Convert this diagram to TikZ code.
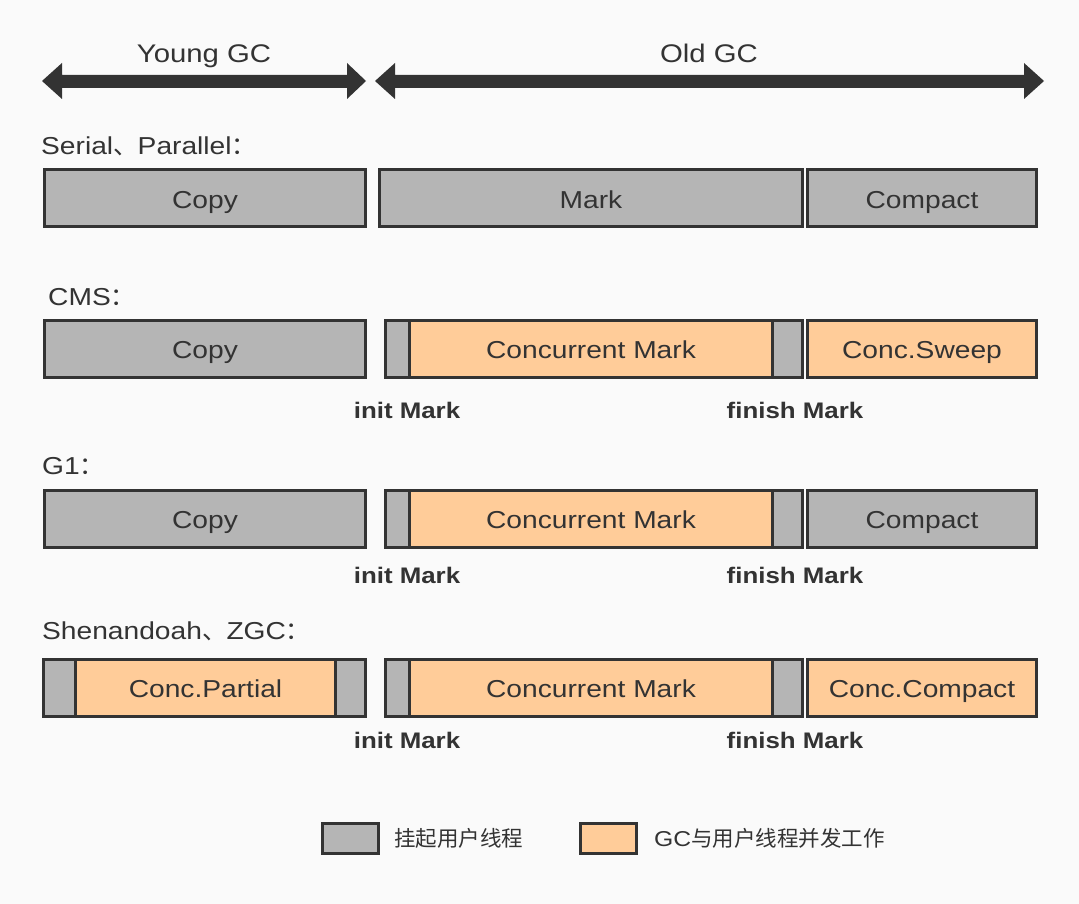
\documentclass[tikz,border=0pt]{standalone}
\usepackage{fontspec}
\setmainfont{Liberation Sans}[FakeStretch=1.15]
\newfontfamily\cjk{Noto Sans CJK SC}
\definecolor{bg}{HTML}{FAFAFA}
\definecolor{ink}{HTML}{333333}
\definecolor{gfill}{HTML}{B5B5B5}
\definecolor{ofill}{HTML}{FFCC99}
\begin{document}
\begin{tikzpicture}[x=1pt,y=-1pt,
  bar/.style={draw=ink, line width=3pt, minimum height=57pt, inner sep=0pt, anchor=west, text=ink,
    text height=19.5pt, text depth=0pt, font=\fontsize{24.5}{28}\selectfont},
  gbar/.style={bar, fill=gfill},
  obar/.style={bar, fill=ofill},
  rowlabel/.style={anchor=base west, text=ink, font=\fontsize{24.5}{28}\selectfont, inner sep=0pt},
  sublabel/.style={anchor=base, text=ink, font=\bfseries\fontsize{22.5}{26}\selectfont, inner sep=0pt},
  head/.style={anchor=base, text=ink, font=\fontsize{25.5}{30}\selectfont, inner sep=0pt},
  legtext/.style={anchor=west, text=ink, font=\fontsize{21.5}{24}\selectfont, inner sep=0pt}]
\fill[bg] (0,0) rectangle (1079,904);
\useasboundingbox (0,0) rectangle (1079,904);

% top arrows
\fill[ink] (42,81) -- (62,63) -- (62,75) -- (347,75) -- (347,63) -- (366,81) -- (347,99) -- (347,88) -- (62,88) -- (62,99) -- cycle;
\fill[ink] (375,81) -- (395,63) -- (395,75) -- (1024,75) -- (1024,63) -- (1044,81) -- (1024,99) -- (1024,88) -- (395,88) -- (395,99) -- cycle;
\node[head] (young) at (204,63) {Young GC};
\node[head] (old) at (709,63) {Old GC};

% Row 1
\node[rowlabel] (l1) at (41,155) {Serial{\cjk 、}Parallel{\cjk ：}};
\node[gbar, minimum width=321pt] (r1a) at (43,198.5) {Copy};
\node[gbar, minimum width=423pt] (r1b) at (378,198.5) {Mark};
\node[gbar, minimum width=229pt] (r1c) at (806,198.5) {Compact};

% Row 2
\node[rowlabel] (l2) at (48,305) {CMS{\cjk ：}};
\node[gbar, minimum width=321pt] (r2a) at (43,348.5) {Copy};
\node[gbar, minimum width=24pt] (r2b1) at (384,348.5) {};
\node[obar, minimum width=363pt] (r2b2) at (408,348.5) {Concurrent Mark};
\node[gbar, minimum width=30pt] (r2b3) at (771,348.5) {};
\node[obar, minimum width=229pt] (r2c) at (806,348.5) {Conc.Sweep};
\node[sublabel] (i2) at (407,418) {init Mark};
\node[sublabel] (f2) at (795,418) {finish Mark};

% Row 3
\node[rowlabel] (l3) at (42,474) {G1{\cjk ：}};
\node[gbar, minimum width=321pt] (r3a) at (43,518.5) {Copy};
\node[gbar, minimum width=24pt] (r3b1) at (384,518.5) {};
\node[obar, minimum width=363pt] (r3b2) at (408,518.5) {Concurrent Mark};
\node[gbar, minimum width=30pt] (r3b3) at (771,518.5) {};
\node[gbar, minimum width=229pt] (r3c) at (806,518.5) {Compact};
\node[sublabel] (i3) at (407,583) {init Mark};
\node[sublabel] (f3) at (795,583) {finish Mark};

% Row 4
\node[rowlabel] (l4) at (42,639) {Shenandoah{\cjk 、}ZGC{\cjk ：}};
\node[gbar, minimum width=32pt] (r4a1) at (42,687.5) {};
\node[obar, minimum width=260pt] (r4a2) at (74,687.5) {Conc.Partial};
\node[gbar, minimum width=30pt] (r4a3) at (334,687.5) {};
\node[gbar, minimum width=24pt] (r4b1) at (384,687.5) {};
\node[obar, minimum width=363pt] (r4b2) at (408,687.5) {Concurrent Mark};
\node[gbar, minimum width=30pt] (r4b3) at (771,687.5) {};
\node[obar, minimum width=229pt] (r4c) at (806,687.5) {Conc.Compact};
\node[sublabel] (i4) at (407,748) {init Mark};
\node[sublabel] (f4) at (795,748) {finish Mark};

% Legend
\node[gbar, minimum width=56pt, minimum height=30pt] (lg1) at (321,838) {};
\node[legtext] (lt1) at (394,838) {\cjk 挂起用户线程};
\node[obar, minimum width=56pt, minimum height=30pt] (lg2) at (579,838) {};
\node[legtext] (lt2) at (654,838) {GC{\cjk 与用户线程并发工作}};
\end{tikzpicture}
\end{document}
